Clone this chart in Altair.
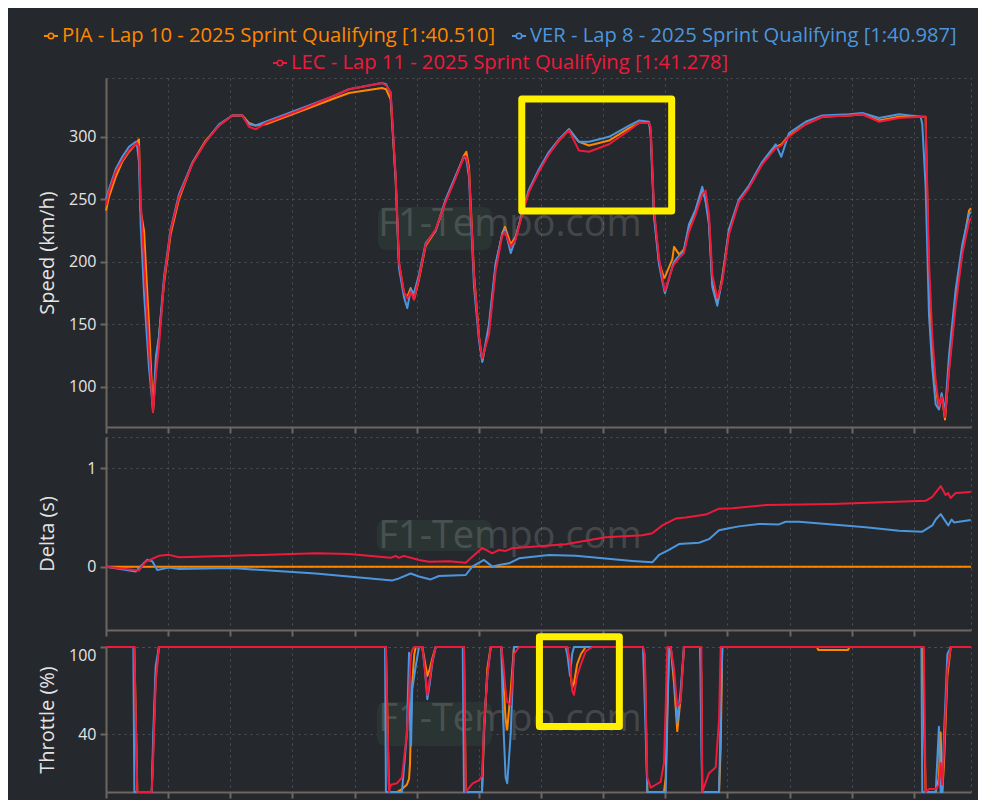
import altair as alt
import pandas as pd

# ---------------- data ----------------
drivers = ["PIA", "VER", "LEC"]
driver_colors = ["#ff8700", "#4c96de", "#ee1a3c"]
legend_labels = [
    "PIA - Lap 10 - 2025 Sprint Qualifying [1:40.510]",
    "VER - Lap 8 - 2025 Sprint Qualifying [1:40.987]",
    "LEC - Lap 11 - 2025 Sprint Qualifying [1:41.278]",
]

speed_dist = [0, 24, 78, 131, 185, 239, 249, 265, 279, 306, 346, 378, 402, 426, 467, 520, 587, 694, 802, 909,
              1016, 1097, 1150, 1204, 1285, 1553, 1818, 1955, 2220, 2253, 2290, 2331, 2357, 2397, 2424, 2451, 2478, 2518, 2572, 2652,
              2733, 2813, 2880, 2899, 2920, 2961, 3001, 3027, 3081, 3135, 3188, 3210, 3256, 3296, 3349, 3403, 3483, 3564, 3644, 3725,
              3805, 3886, 4047, 4208, 4288, 4369, 4382, 4409, 4449, 4489, 4497, 4556, 4570, 4610, 4650, 4690, 4744, 4797, 4824, 4851,
              4878, 4918, 4958, 5012, 5092, 5173, 5280, 5388, 5433, 5495, 5629, 5763, 5978, 6085, 6219, 6380, 6554, 6567, 6594, 6621,
              6648, 6675, 6701, 6723, 6750, 6782, 6836, 6889, 6943, 6959]
speed_pia = [241, 252, 268, 280, 288, 294, 296, 298, 241, 225, 150, 80, 115, 140, 183, 222, 250, 279, 297, 309,
             317, 317, 311, 309, 310, 320, 330, 335, 339, 338, 330, 265, 199, 175, 172, 179, 170, 186, 213, 225,
             249, 268, 285, 288, 276, 190, 140, 121, 146, 197, 223, 228, 214, 220, 239, 257, 273, 287, 297, 306,
             296, 293, 297, 307, 311, 311, 305, 239, 200, 187, 188, 202, 212, 206, 210, 228, 241, 258, 250, 233,
             183, 167, 188, 225, 249, 260, 279, 292, 294, 301, 310, 316, 317, 318, 313, 316, 316, 316, 316, 185,
             132, 100, 83, 93, 74, 115, 170, 210, 241, 243]
speed_ver = [250, 258, 274, 284, 292, 296, 294, 280, 230, 175, 115, 82, 125, 140, 188, 226, 254, 279, 296, 310,
             317, 317, 310, 309, 312, 322, 332, 338, 343, 342, 335, 265, 195, 172, 163, 178, 175, 190, 215, 225,
             250, 269, 284, 282, 268, 180, 137, 120, 150, 199, 222, 226, 207, 219, 240, 258, 274, 288, 298, 306,
             296, 296, 300, 309, 313, 312, 300, 236, 198, 178, 175, 196, 200, 205, 209, 230, 242, 260, 248, 230,
             180, 165, 186, 226, 250, 261, 280, 294, 284, 303, 312, 317, 318, 319, 315, 318, 316, 310, 260, 158,
             115, 86, 82, 95, 80, 125, 178, 214, 238, 240]
speed_lec = [245, 256, 272, 281, 289, 294, 295, 292, 250, 200, 130, 80, 110, 132, 185, 225, 252, 278, 296, 309,
             317, 317, 308, 306, 311, 321, 332, 338, 343, 341, 336, 268, 200, 176, 171, 176, 170, 187, 214, 226,
             248, 267, 284, 284, 273, 188, 140, 123, 142, 193, 221, 224, 212, 218, 238, 256, 272, 286, 297, 305,
             289, 288, 294, 305, 311, 311, 308, 242, 203, 180, 177, 195, 198, 203, 207, 224, 238, 254, 257, 238,
             190, 171, 184, 222, 248, 259, 278, 291, 293, 300, 310, 316, 317, 318, 312, 315, 316, 316, 316, 200,
             140, 105, 85, 92, 76, 112, 165, 206, 232, 235]

delta_pia_dist = [0, 6959]
delta_pia = [0.0, 0.0]
delta_ver_dist = [0, 239, 332, 372, 413, 507, 587, 1016, 1687, 2304, 2357, 2451, 2518, 2612, 2679, 2894, 2947, 3041, 3108,
                  3162, 3242, 3323, 3564, 3779, 4234, 4395, 4449, 4529, 4610, 4771, 4851, 4932, 5012, 5092, 5253, 5414,
                  5468, 5575, 5843, 6112, 6380, 6567, 6648, 6675, 6715, 6776, 6803, 6822, 6957]
delta_ver = [0, -0.05, 0.07, 0.055, -0.035, -0.01, -0.025, -0.015, -0.07, -0.14, -0.12, -0.07, -0.10, -0.13, -0.095,
             -0.085, 0.0, 0.068, 0.0, 0.017, 0.034, 0.085, 0.119, 0.11, 0.058, 0.044, 0.119, 0.17, 0.23, 0.244, 0.28,
             0.37, 0.39, 0.41, 0.434, 0.43, 0.457, 0.457, 0.43, 0.40, 0.366, 0.356, 0.42, 0.48, 0.535, 0.42, 0.48,
             0.45, 0.474]
delta_lec_dist = [0, 265, 319, 426, 507, 587, 1016, 1687, 1955, 2290, 2331, 2357, 2397, 2518, 2599, 2759, 2894, 2947,
                  3027, 3108, 3162, 3216, 3266, 3510, 3698, 4020, 4315, 4395, 4476, 4583, 4664, 4825, 4932, 5039, 5307,
                  5843, 6594, 6648, 6715, 6755, 6774, 6796, 6836, 6957]
delta_lec = [0, -0.04, 0.05, 0.11, 0.12, 0.095, 0.11, 0.136, 0.13, 0.09, 0.11, 0.09, 0.11, 0.068, 0.05, 0.055, 0.04,
             0.10, 0.19, 0.136, 0.17, 0.16, 0.187, 0.21, 0.227, 0.30, 0.32, 0.34, 0.42, 0.49, 0.50, 0.53, 0.59, 0.595,
             0.627, 0.637, 0.67, 0.71, 0.82, 0.73, 0.75, 0.70, 0.75, 0.76]

throttle_dist = [0, 220, 228, 252, 368, 380, 400, 426, 2245, 2252, 2277, 2284, 2293, 2340, 2381, 2420, 2438, 2446,
                 2454, 2464, 2480, 2492, 2518, 2545, 2565, 2585, 2605, 2625, 2652, 2870, 2880, 2894, 2950, 3000, 3025,
                 3041, 3068, 3095, 3162, 3180, 3195, 3215, 3228, 3256, 3282, 3323, 3698, 3711, 3733, 3750, 3765, 3790,
                 3820, 3859, 3913, 4320, 4335, 4355, 4382, 4422, 4462, 4489, 4503, 4516, 4530, 4543, 4570, 4596, 4623,
                 4650, 4780, 4790, 4797, 4851, 4905, 4932, 4945, 4958, 5720, 5730, 5970, 5980, 6560, 6567, 6580, 6594,
                 6621, 6675, 6701, 6715, 6728, 6742, 6769, 6796, 6959]
throttle_pia = [100, 100, 100, 0, 0, 30, 80, 100, 100, 100, 0, 0, 0, 0, 2, 5, 9, 20,
                50, 75, 95, 100, 100, 100, 90, 80, 85, 92, 100, 100, 100, 0, 0, 0, 0,
                40, 85, 100, 100, 100, 80, 50, 43, 70, 100, 100, 100, 100, 85, 72, 75, 88,
                95, 100, 100, 100, 90, 0, 0, 0, 0, 0, 10, 60, 100, 100, 75, 42, 65,
                100, 100, 80, 0, 0, 0, 0, 30, 100, 100, 98, 98, 100, 100, 100, 50, 0,
                0, 0, 10, 41, 0, 20, 80, 100, 100]
throttle_ver = [100, 100, 0, 0, 0, 40, 87, 100, 100, 0, 0, 0, 0, 0, 0, 40, 96, 50,
                32, 71, 80, 87, 100, 100, 85, 64, 75, 89, 100, 100, 0, 0, 0, 0, 0,
                45, 80, 100, 100, 100, 50, 10, 6, 40, 100, 100, 100, 95, 80, 95, 100, 100,
                100, 100, 100, 100, 60, 0, 0, 0, 0, 0, 0, 50, 100, 100, 80, 48, 70,
                100, 100, 30, 0, 0, 0, 0, 50, 100, 100, 100, 100, 100, 100, 0, 0, 0,
                0, 0, 45, 0, 0, 40, 95, 100, 100]
throttle_lec = [100, 100, 100, 0, 0, 25, 75, 100, 100, 100, 0, 3, 5, 6, 10, 40, 67, 85,
                95, 98, 100, 100, 100, 100, 85, 67, 78, 90, 100, 100, 100, 0, 6, 8, 11,
                45, 80, 100, 100, 100, 90, 70, 62, 60, 95, 100, 100, 100, 90, 70, 67, 80,
                88, 97, 100, 100, 95, 10, 3, 5, 7, 20, 60, 100, 100, 100, 85, 59, 62,
                100, 100, 100, 0, 13, 17, 50, 100, 100, 100, 100, 100, 100, 100, 100, 100, 0,
                2, 2, 5, 20, 5, 30, 85, 100, 100]

speed_ticks = [100, 150, 200, 250, 300]
delta_ticks = [0, 1]
throttle_ticks = [40, 100]
distance_ticks = list(range(0, 7000, 500))

speed_box_dist = [3345, 4551]
speed_box_speed = [240.6, 330.2]
throttle_box_dist = [3487, 4130]
throttle_box_throttle = [45.2, 107.0]

for a, b in [(speed_dist, speed_pia), (speed_dist, speed_ver), (speed_dist, speed_lec),
             (delta_ver_dist, delta_ver), (delta_lec_dist, delta_lec),
             (throttle_dist, throttle_pia), (throttle_dist, throttle_ver), (throttle_dist, throttle_lec)]:
    assert len(a) == len(b), (len(a), len(b))

# ---------------- style ----------------
BG = "#25282c"
GRID = "#505050"
AXIS = "#6e675f"
TEXT = "#e4e4e4"
FONT = "Open Sans"
YELLOW = "#fff000"

W = 865
H_SPEED, H_DELTA, H_THR = 349, 193, 145

xscale = alt.Scale(domain=[0, 6959], nice=False, zero=False)
xaxis = alt.Axis(values=distance_ticks, labels=False, title=None)


def series_layers(dists, vals, yscale, yaxis):
    layers = []
    for drv, col, d, v in zip(drivers, driver_colors, dists, vals):
        df = pd.DataFrame({"dist": d, "val": v, "driver": drv})
        layers.append(
            alt.Chart(df).mark_line(strokeWidth=2, color=col, strokeJoin="round").encode(
                x=alt.X("dist:Q", scale=xscale, axis=xaxis),
                y=alt.Y("val:Q", scale=yscale, axis=yaxis),
            )
        )
    return layers


def watermark(cx, cy, bx, by, bw, bh):
    one = pd.DataFrame({"t": ["F1-Tempo.com"]})
    box = alt.Chart(one).mark_rect(fill="#2a3433", cornerRadius=8).encode(
        x=alt.value(bx), x2=alt.value(bx + bw), y=alt.value(by), y2=alt.value(by + bh))
    txt = alt.Chart(one).mark_text(font=FONT, fontSize=38, color="#ffffff", opacity=0.14,
                                   align="center", baseline="middle").encode(
        x=alt.value(cx), y=alt.value(cy), text="t:N")
    return [box, txt]


def spacer(y):
    return alt.Chart(pd.DataFrame({"a": [0]})).mark_rule(opacity=0, strokeWidth=1).encode(
        x=alt.value(0), x2=alt.value(10), y=alt.value(y))


def yellow_box(dists, vals, yscale, yaxis):
    df = pd.DataFrame({"x": [dists[0]], "x2": [dists[1]], "y": [vals[0]], "y2": [vals[1]]})
    return alt.Chart(df).mark_rect(fillOpacity=0, stroke=YELLOW, strokeWidth=7, strokeJoin="round").encode(
        x=alt.X("x:Q", scale=xscale, axis=xaxis), x2="x2:Q",
        y=alt.Y("y:Q", scale=yscale, axis=yaxis), y2="y2:Q")


def legend_item(i, sx, sy):
    one = pd.DataFrame({"t": [legend_labels[i]]})
    col = driver_colors[i]
    line = alt.Chart(one).mark_rule(color=col, strokeWidth=2).encode(
        x=alt.value(sx - 7), x2=alt.value(sx + 7), y=alt.value(sy))
    dot = alt.Chart(one).mark_point(shape="circle", filled=True, fill=BG, stroke=col, strokeWidth=1.6,
                                    size=30, opacity=1).encode(x=alt.value(sx), y=alt.value(sy))
    txt = alt.Chart(one).mark_text(font=FONT, fontSize=20.2, color=col, align="left", baseline="middle").encode(
        x=alt.value(sx + 11), y=alt.value(sy), text="t:N")
    return [line, dot, txt]


# ---------------- speed ----------------
speed_scale = alt.Scale(domain=[68, 347], nice=False, zero=False)
speed_axis = alt.Axis(values=speed_ticks, title="Speed (km/h)", titleX=-59, titleY=H_SPEED / 2,
                      titleAngle=270, titleAlign="center", titleBaseline="middle")
speed = alt.layer(
    *watermark(404, 147, 272, 129, 114, 43),
    *series_layers([speed_dist] * 3, [speed_pia, speed_ver, speed_lec], speed_scale, speed_axis),
    yellow_box(speed_box_dist, speed_box_speed, speed_scale, speed_axis),
    *legend_item(0, -55, -42),
    *legend_item(1, 413, -42),
    *legend_item(2, 174, -15),
    spacer(358.5),
).properties(width=W, height=H_SPEED)

# ---------------- delta ----------------
delta_scale = alt.Scale(domain=[-0.645, 1.32], nice=False, zero=False)
delta_axis = alt.Axis(values=delta_ticks, title="Delta (s)", titleX=-59, titleY=H_DELTA / 2,
                      titleAngle=270, titleAlign="center", titleBaseline="middle")
delta = alt.layer(
    *watermark(404, 100, 271, 83, 115, 31),
    *series_layers([delta_pia_dist, delta_ver_dist, delta_lec_dist], [delta_pia, delta_ver, delta_lec],
                   delta_scale, delta_axis),
    spacer(204.5),
).properties(width=W, height=H_DELTA)

# ---------------- throttle ----------------
thr_scale = alt.Scale(domain=[0, 100], nice=False, zero=False)
thr_axis = alt.Axis(values=throttle_ticks, title="Throttle (%)", titleX=-59, titleY=H_THR / 2,
                    titleAngle=270, titleAlign="center", titleBaseline="middle", labelFlush=True)
throttle = alt.layer(
    *watermark(404, 73, 271, 55, 115, 44),
    *series_layers([throttle_dist] * 3, [throttle_pia, throttle_ver, throttle_lec], thr_scale, thr_axis),
    yellow_box(throttle_box_dist, throttle_box_throttle, thr_scale, thr_axis),
).properties(width=W, height=H_THR)

chart = alt.vconcat(speed, delta, throttle, spacing=-10).properties(
    background=BG,
    padding={"left": 28, "top": 17, "right": 5, "bottom": 0},
).configure_view(
    stroke=GRID, strokeDash=[2, 4], strokeWidth=1,
).configure_axis(
    domainColor=AXIS, domainWidth=2, tickColor=AXIS, tickWidth=2, tickSize=6,
    gridColor=GRID, gridDash=[2, 4], gridWidth=1,
    labelColor=TEXT, labelFont=FONT, labelFontSize=16, labelPadding=4,
    titleColor=TEXT, titleFont=FONT, titleFontSize=20, titleFontWeight="normal",
)

chart.save("out.html", embed_options={"renderer": "svg", "actions": False})
